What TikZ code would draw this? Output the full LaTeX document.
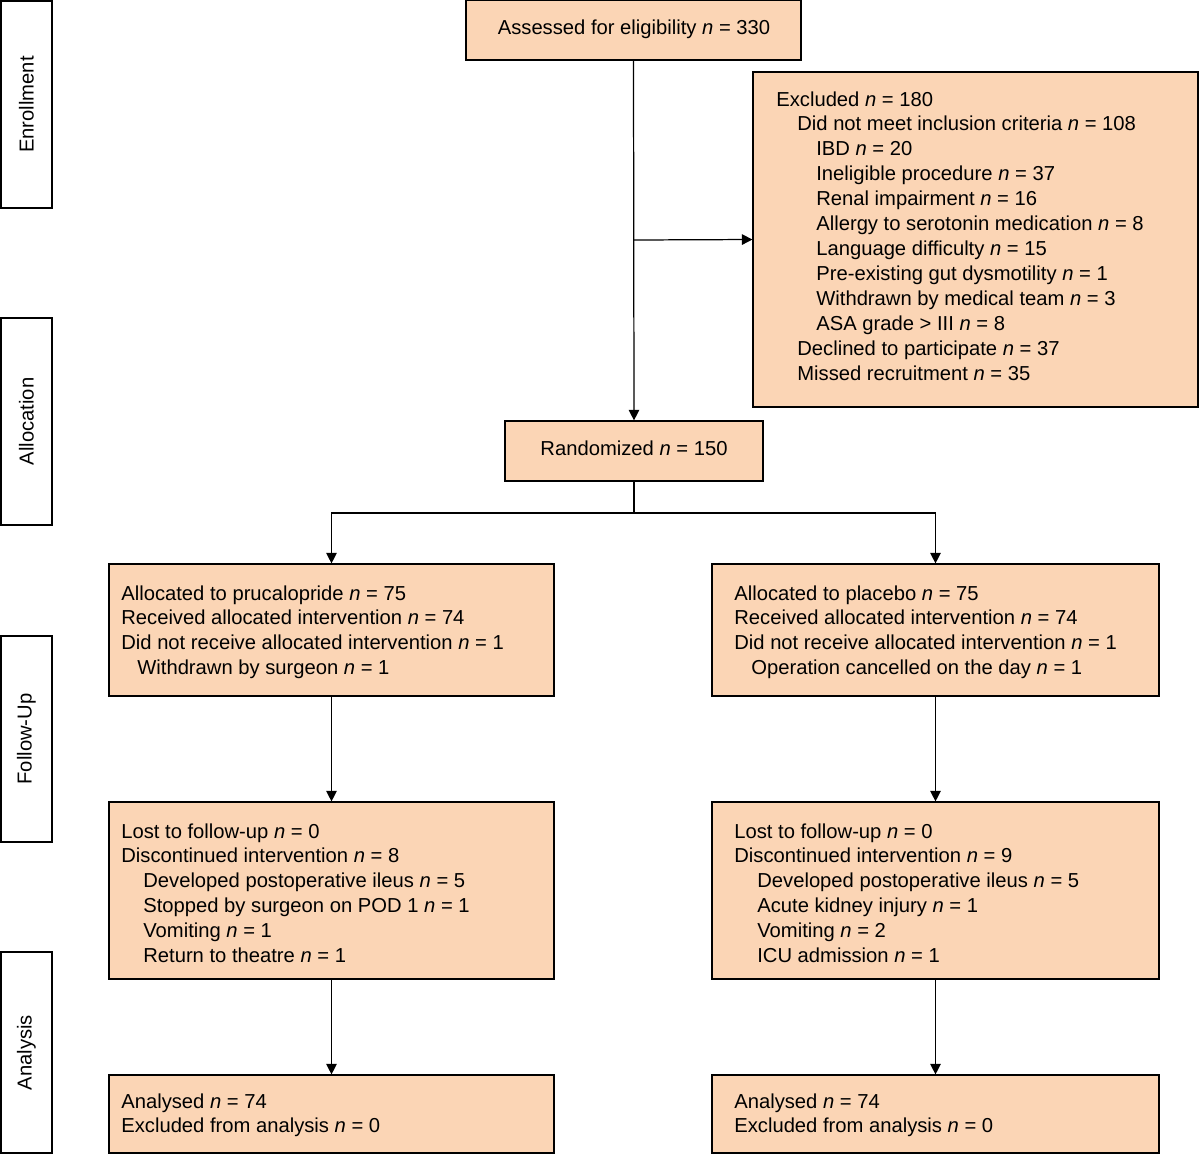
\documentclass[tikz,border=0pt]{standalone}
\usepackage{fontspec}
\setmainfont{Liberation Sans}
\usetikzlibrary{arrows.meta}
\definecolor{peach}{RGB}{251,213,181}
\newcommand{\nn}{\textit{n}}
\newcommand{\ia}{\hspace*{0.42cm}}
\newcommand{\ib}{\hspace*{0.80cm}}
\begin{document}
\begin{tikzpicture}[x=0.02cm,y=-0.02cm,
  box/.style={draw=black,fill=peach,line width=0.7pt,inner sep=0pt},
  side/.style={draw=black,fill=white,line width=0.7pt,inner sep=0pt},
  txt/.style={inner sep=0pt,anchor=north west,align=left,font=\fontsize{11.5pt}{14.2pt}\selectfont},
  stxt/.style={inner sep=0pt,rotate=90,font=\fontsize{11.5pt}{14.2pt}\selectfont},
  arr/.style={line width=0.7pt,-{Triangle[length=6pt,width=6pt]}},
  ln/.style={line width=0.7pt}]
\useasboundingbox (0,0) rectangle (1200,1154);
% side labels
\draw[side] (1,1) rectangle (52,208) node[stxt,midway] {Enrollment};
\draw[side] (1,318) rectangle (52,525) node[stxt,midway] {Allocation};
\draw[side] (1,636) rectangle (52,842) node[stxt,midway] {Follow-Up};
\draw[side] (1,952) rectangle (52,1153) node[stxt,midway] {Analysis};
% boxes
\node[box,minimum width=6.7cm,minimum height=1.2cm] (ass) at (633.5,30) {};
\node[box,minimum width=8.9cm,minimum height=6.7cm] (exc) at (975.5,239.5) {};
\node[box,minimum width=5.16cm,minimum height=1.2cm] (ran) at (634,451) {};
\node[box,minimum width=8.9cm,minimum height=2.64cm] (la) at (331.5,630) {};
\node[box,minimum width=8.94cm,minimum height=2.64cm] (ra) at (935.5,630) {};
\node[box,minimum width=8.9cm,minimum height=3.54cm] (lf) at (331.5,890.5) {};
\node[box,minimum width=8.94cm,minimum height=3.54cm] (rf) at (935.5,890.5) {};
\node[box,minimum width=8.9cm,minimum height=1.56cm] (ln) at (331.5,1114) {};
\node[box,minimum width=8.94cm,minimum height=1.56cm] (rn) at (935.5,1114) {};
% texts
\node[txt,anchor=base] at (634,34) {Assessed for eligibility \nn{} = 330};
\node[txt,anchor=base] at (634,455) {Randomized \nn{} = 150};
\node[txt] at (776,91) {Excluded \nn{} = 180\\
\ia Did not meet inclusion criteria \nn{} = 108\\
\ib IBD \nn{} = 20\\
\ib Ineligible procedure \nn{} = 37\\
\ib Renal impairment \nn{} = 16\\
\ib Allergy to serotonin medication \nn{} = 8\\
\ib Language difficulty \nn{} = 15\\
\ib Pre-existing gut dysmotility \nn{} = 1\\
\ib Withdrawn by medical team \nn{} = 3\\
\ib ASA grade > III \nn{} = 8\\
\ia Declined to participate \nn{} = 37\\
\ia Missed recruitment \nn{} = 35};
\node[txt] at (121,585) {Allocated to prucalopride \nn{} = 75\\
Received allocated intervention \nn{} = 74\\
Did not receive allocated intervention \nn{} = 1\\
\hspace*{0.32cm}Withdrawn by surgeon \nn{} = 1};
\node[txt] at (734,585) {Allocated to placebo \nn{} = 75\\
Received allocated intervention \nn{} = 74\\
Did not receive allocated intervention \nn{} = 1\\
\hspace*{0.34cm}Operation cancelled on the day \nn{} = 1};
\node[txt] at (121,823) {Lost to follow-up \nn{} = 0\\
Discontinued intervention \nn{} = 8\\
\hspace*{0.44cm}Developed postoperative ileus \nn{} = 5\\
\hspace*{0.44cm}Stopped by surgeon on POD 1 \nn{} = 1\\
\hspace*{0.44cm}Vomiting \nn{} = 1\\
\hspace*{0.44cm}Return to theatre \nn{} = 1};
\node[txt] at (734,823) {Lost to follow-up \nn{} = 0\\
Discontinued intervention \nn{} = 9\\
\hspace*{0.46cm}Developed postoperative ileus \nn{} = 5\\
\hspace*{0.46cm}Acute kidney injury \nn{} = 1\\
\hspace*{0.46cm}Vomiting \nn{} = 2\\
\hspace*{0.46cm}ICU admission \nn{} = 1};
\node[txt] at (121,1093) {Analysed \nn{} = 74\\Excluded from analysis \nn{} = 0};
\node[txt] at (734,1093) {Analysed \nn{} = 74\\Excluded from analysis \nn{} = 0};
% connectors
\coordinate (j1) at (634,240);
\coordinate (j2) at (634,513);
\draw[arr] (ass.south) -- (ran.north);
\draw[arr] (j1) -- (exc.west);
\draw[ln] (ran.south) -- (j2);
\draw[arr] (j2) -| (la.north);
\draw[arr] (j2) -| (ra.north);
\draw[arr] (la.south) -- (lf.north);
\draw[arr] (ra.south) -- (rf.north);
\draw[arr] (lf.south) -- (ln.north);
\draw[arr] (rf.south) -- (rn.north);
\end{tikzpicture}
\end{document}
